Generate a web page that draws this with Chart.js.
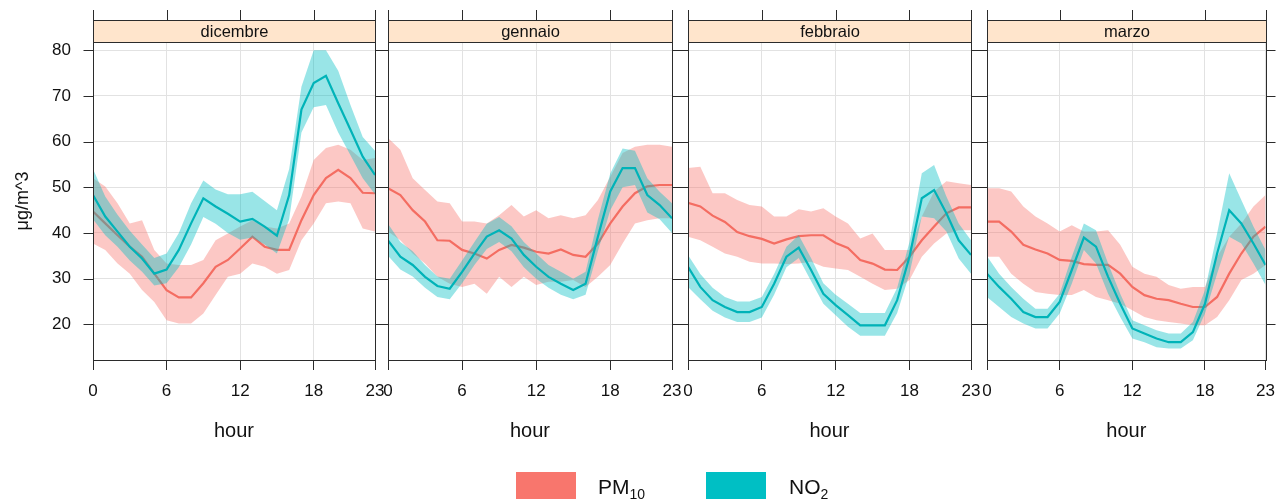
<!DOCTYPE html>
<html>
<head>
<meta charset="utf-8">
<script src="https://cdn.jsdelivr.net/npm/chart.js@4.4.0/dist/chart.umd.min.js"></script>
<style>
  body { margin: 0; background: #fff; }
  #wrap { position: relative; width: 1286px; height: 499px; overflow: hidden; font-family: "Liberation Sans", Arial, sans-serif; }
  #wrap canvas { position: absolute; left: 0; top: 0; }
  .key { position: absolute; top: 472px; width: 60px; height: 32px; }
  .lab { position: absolute; top: 476px; font-size: 21px; line-height: 21px; color: #111; white-space: nowrap; }
  .lab span { font-size: 14px; position: relative; top: 5px; }
</style>
</head>
<body>
<div id="wrap">
  <canvas id="c0" width="1286" height="499"></canvas>
  <canvas id="c1" width="1286" height="499"></canvas>
  <canvas id="c2" width="1286" height="499"></canvas>
  <canvas id="c3" width="1286" height="499"></canvas>
  <div class="key" style="left:516px;background:#F8766D"></div>
  <div class="lab" style="left:598px">PM<span>10</span></div>
  <div class="key" style="left:706px;background:#00BFC4"></div>
  <div class="lab" style="left:789px">NO<span>2</span></div>
</div>
<script>
const hours = [0,1,2,3,4,5,6,7,8,9,10,11,12,13,14,15,16,17,18,19,20,21,22,23];
const months = ["dicembre", "gennaio", "febbraio", "marzo"];
const xTicks = [0, 6, 12, 18, 23];
const yTicks = [20, 30, 40, 50, 60, 70, 80];

// dicembre
const dicPm10   = [44.7,42.1,39.5,37.0,34.8,31.1,27.5,25.9,25.9,29.0,32.6,34.1,36.6,39.2,37.0,36.3,36.3,42.8,48.3,52.0,53.8,52.0,48.8,48.7];
const dicPm10Lo = [37.7,36.3,33.3,31.1,27.5,24.9,20.9,20.2,20.2,22.4,26.4,30.4,31.1,33.3,32.6,31.1,31.9,38.4,42.1,46.5,46.9,46.5,41.0,40.3];
const dicPm10Hi = [52.0,50.2,46.5,42.1,42.8,36.3,33.3,33.0,33.0,34.1,38.4,39.9,41.4,42.8,41.4,41.0,42.1,48.0,56.0,58.6,59.3,58.2,56.0,56.4];
const dicNo2    = [48.3,43.6,40.3,37.0,34.4,31.1,32.0,36.3,42.1,47.6,45.8,44.2,42.5,43.1,41.4,39.4,48.3,67.0,72.8,74.4,68.4,62.6,56.7,52.7];
const dicNo2Lo  = [43.0,39.5,37.0,34.0,31.5,28.5,29.0,32.5,37.5,43.5,42.0,40.0,38.5,39.0,37.5,35.5,43.0,62.0,67.5,68.0,62.0,57.0,52.0,48.5];
const dicNo2Hi  = [54.0,48.0,44.0,40.5,37.5,34.5,35.5,40.0,46.5,51.5,49.5,48.5,48.5,49.0,47.0,45.0,54.0,72.0,80.0,80.0,75.5,68.0,61.0,58.0];

// gennaio
const genPm10   = [49.8,48.3,45.0,42.5,38.4,38.3,36.3,35.5,34.4,36.3,37.4,36.8,35.9,35.5,36.4,35.2,34.8,37.7,42.1,45.8,48.7,50.2,50.5,50.5];
const genPm10Lo = [40.3,38.4,35.5,33.3,30.4,28.9,28.2,28.9,26.7,30.4,28.2,30.4,28.6,29.3,29.3,29.7,28.2,30.4,33.0,37.7,42.1,42.8,43.2,43.2];
const genPm10Hi = [60.8,58.2,52.0,49.4,46.9,46.5,42.5,42.5,42.1,43.9,46.1,43.6,45.0,43.2,43.9,43.2,43.9,47.2,52.3,57.5,58.9,59.3,59.3,58.9];
const genNo2    = [38.4,34.8,33.0,30.4,28.4,27.8,31.5,35.5,39.2,40.6,38.8,35.2,32.6,30.4,28.9,27.5,28.9,39.2,49.1,54.2,54.2,48.3,46.1,43.2];
const genNo2Lo  = [35.0,32.0,30.5,28.0,26.0,25.5,29.0,33.0,36.5,38.0,36.0,32.5,30.0,28.0,26.5,25.5,26.5,36.0,45.0,50.0,50.5,44.5,43.0,40.0];
const genNo2Hi  = [42.0,38.0,36.0,33.0,30.5,30.0,34.0,38.0,42.0,43.5,41.5,38.0,35.5,33.0,31.5,30.0,31.5,43.0,53.0,58.5,58.0,52.0,49.0,46.5];

// febbraio
const febPm10   = [46.6,45.8,43.8,42.4,40.2,39.3,38.7,37.7,38.6,39.3,39.5,39.5,37.8,36.7,34.1,33.3,32.0,31.9,34.8,38.4,41.4,44.3,45.6,45.6];
const febPm10Lo = [39.2,38.4,37.0,35.5,34.8,33.7,33.3,33.3,33.2,33.3,33.7,32.6,32.2,31.9,30.4,28.9,27.5,27.8,29.7,34.8,37.7,39.9,40.6,40.6];
const febPm10Hi = [54.2,54.5,48.7,48.7,47.2,46.1,45.8,43.6,43.6,45.2,44.7,45.4,43.6,42.1,38.8,39.9,36.3,36.3,36.3,43.6,49.1,51.3,50.9,50.5];
const febNo2    = [32.6,28.2,25.3,23.8,22.7,22.7,23.8,28.9,34.8,36.8,31.9,26.7,24.2,22.0,19.8,19.8,19.8,25.3,34.8,47.6,49.4,44.3,38.4,35.2];
const febNo2Lo  = [28.2,25.5,23.0,21.5,20.5,20.5,21.5,26.5,32.5,34.5,29.5,24.5,22.0,19.5,17.5,17.5,17.5,22.5,31.0,43.6,43.2,40.3,34.4,31.1];
const febNo2Hi  = [35.2,31.0,28.0,26.0,25.0,25.0,26.0,31.0,37.0,39.5,34.5,29.0,26.5,24.5,22.5,22.5,22.5,28.0,38.0,53.1,54.9,48.0,42.1,38.4];

// marzo
const marPm10   = [42.5,42.5,40.3,37.4,36.4,35.5,34.1,33.9,33.2,33.0,33.0,31.1,28.2,26.4,25.6,25.3,24.5,23.8,23.8,26.0,31.1,35.5,39.2,41.4];
const marPm10Lo = [34.8,34.8,31.1,28.9,27.1,26.7,26.4,26.4,27.5,26.0,25.3,24.5,23.1,21.6,20.9,20.5,20.2,19.8,19.8,21.6,25.3,29.7,31.1,33.0];
const marPm10Hi = [49.8,49.8,49.1,45.8,43.6,42.1,40.3,41.7,40.3,40.3,40.6,37.4,32.6,31.1,30.4,28.6,27.8,28.2,28.2,34.8,39.2,42.1,45.8,48.3];
const marNo2    = [31.1,28.2,25.6,22.7,21.6,21.6,24.9,31.9,39.0,37.0,30.4,24.5,19.1,18.0,16.9,16.1,16.1,18.3,24.5,35.5,45.0,42.1,37.7,33.0];
const marNo2Lo  = [26.0,23.8,21.6,20.2,19.1,19.1,22.4,28.9,36.3,33.3,26.7,21.6,16.9,16.1,15.0,14.7,14.7,16.5,22.4,31.1,39.2,37.7,33.3,28.6];
const marNo2Hi  = [34.9,31.1,28.2,25.6,23.4,23.4,26.7,34.8,42.1,40.6,33.3,26.7,20.9,19.8,18.7,18.0,18.0,20.5,27.5,39.9,53.1,47.2,41.4,36.3];

const pm10Series = [
  [dicPm10, dicPm10Lo, dicPm10Hi],
  [genPm10, genPm10Lo, genPm10Hi],
  [febPm10, febPm10Lo, febPm10Hi],
  [marPm10, marPm10Lo, marPm10Hi]
];
const no2Series = [
  [dicNo2, dicNo2Lo, dicNo2Hi],
  [genNo2, genNo2Lo, genNo2Hi],
  [febNo2, febNo2Lo, febNo2Hi],
  [marNo2, marNo2Lo, marNo2Hi]
];

// panel boxes in the page (pixels)
const panelLeft  = [93, 388, 688, 987];
const panelRight = [375, 672, 971, 1270];
const W = 1286;
const FONT = "'Liberation Sans', Arial, sans-serif";
const frameCol = "#2b2b2b";

Chart.defaults.font.family = FONT;

const pts = arr => arr.map((v, i) => ({x: hours[i], y: v}));

// strip, outer ticks and panel frame
const panelDeco = {
  id: "panelDeco",
  afterDraw(chart, args, opts) {
    const {ctx, chartArea: a, scales: {x, y}} = chart;
    const L = Math.round(a.left) + 0.5, R = Math.round(a.right) + 0.5;
    const T = Math.round(a.top) + 0.5, B = Math.round(a.bottom) + 0.5;
    ctx.save();
    ctx.fillStyle = "#FFE5CC";
    ctx.fillRect(L, 20.5, R - L, T - 20.5);
    ctx.strokeStyle = frameCol;
    ctx.lineWidth = 1;
    ctx.strokeRect(L, 20.5, R - L, T - 20.5);
    ctx.strokeRect(L, T, R - L, B - T);
    ctx.beginPath();
    xTicks.forEach(v => {
      const px = Math.round(x.getPixelForValue(v)) + 0.5;
      ctx.moveTo(px, 10); ctx.lineTo(px, 20.5);
    });
    yTicks.forEach(v => {
      const py = Math.round(y.getPixelForValue(v)) + 0.5;
      ctx.moveTo(L - 10, py); ctx.lineTo(L, py);
      ctx.moveTo(R, py); ctx.lineTo(R + 9, py);
    });
    ctx.stroke();
    ctx.fillStyle = "#111";
    ctx.font = "16.5px " + FONT;
    ctx.textAlign = "center";
    ctx.textBaseline = "middle";
    ctx.fillText(opts.title, (L + R) / 2, 32);
    ctx.restore();
  }
};

months.forEach((m, i) => {
  const yw = i === 0 ? 93 : 10;
  const [pm, pmLo, pmHi] = pm10Series[i];
  const [no, noLo, noHi] = no2Series[i];
  new Chart(document.getElementById("c" + i), {
    type: "line",
    data: {
      datasets: [
        {data: pts(no), borderColor: "#00B3B8", borderWidth: 2.2, fill: false, order: 0},
        {data: pts(noHi), borderColor: "transparent", borderWidth: 0, backgroundColor: "rgba(0,191,196,0.4)", fill: "+1", order: 1},
        {data: pts(noLo), borderColor: "transparent", borderWidth: 0, fill: false, order: 1},
        {data: pts(pm), borderColor: "#F46D62", borderWidth: 2.2, fill: false, order: 2},
        {data: pts(pmHi), borderColor: "transparent", borderWidth: 0, backgroundColor: "rgba(248,118,109,0.4)", fill: "+1", order: 3},
        {data: pts(pmLo), borderColor: "transparent", borderWidth: 0, fill: false, order: 3}
      ]
    },
    options: {
      responsive: false,
      animation: false,
      devicePixelRatio: 1,
      layout: {padding: {left: panelLeft[i] - yw, right: W - panelRight[i], top: 42, bottom: 39}},
      elements: {point: {radius: 0}, line: {tension: 0}},
      plugins: {
        legend: {display: false},
        tooltip: {enabled: false},
        panelDeco: {title: m}
      },
      scales: {
        x: {
          type: "linear", min: 0, max: 23,
          afterBuildTicks: s => { s.ticks = xTicks.map(v => ({value: v})); },
          afterFit: s => { s.height = 100; },
          grid: {color: "#e2e2e2", lineWidth: 1, tickColor: frameCol, tickLength: 10},
          border: {color: frameCol},
          ticks: {padding: 11, autoSkip: false, maxRotation: 0, color: "#111", font: {size: 17}},
          title: {display: true, text: "hour", color: "#111", font: {size: 20}, padding: {top: 0, bottom: 17}}
        },
        y: {
          min: 12.2, max: 81.8,
          afterBuildTicks: s => { s.ticks = yTicks.map(v => ({value: v})); },
          afterFit: s => { s.width = yw; },
          grid: {color: "#e2e2e2", lineWidth: 1, drawTicks: false},
          border: {color: frameCol},
          ticks: {display: i === 0, padding: 22, color: "#111", font: {size: 17}},
          title: {display: i === 0, text: "μg/m^3", color: "#111", font: {size: 18}, padding: {top: 12}}
        }
      }
    },
    plugins: [panelDeco]
  });
});
</script>
</body>
</html>
